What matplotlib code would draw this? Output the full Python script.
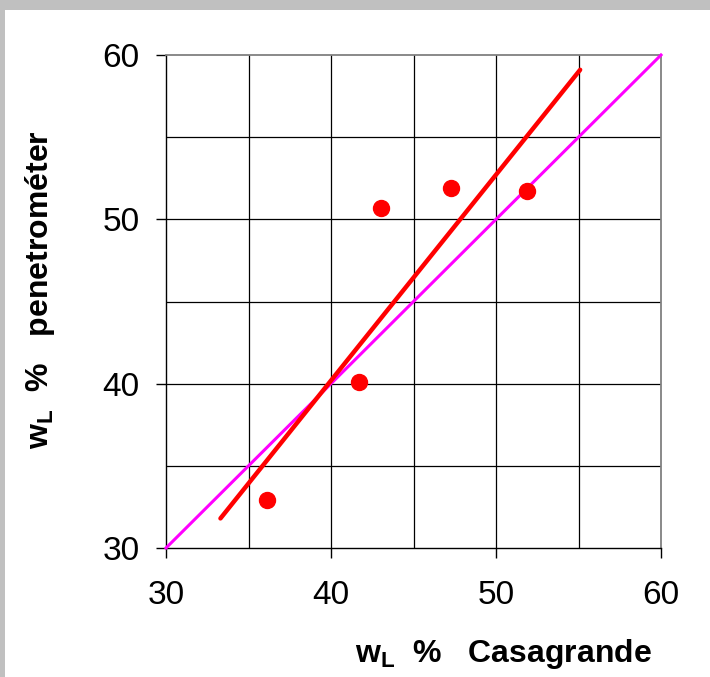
import matplotlib
matplotlib.use("Agg")
import matplotlib.pyplot as plt
from matplotlib.patches import Rectangle

plt.rcParams['font.family'] = ['Liberation Sans', 'DejaVu Sans']
plt.rcParams['mathtext.fontset'] = 'custom'
plt.rcParams['mathtext.rm'] = 'Liberation Sans'
plt.rcParams['mathtext.bf'] = 'Liberation Sans:bold'

# data
casagrande = [36.1, 41.7, 43.0, 47.3, 51.9]
penetrometer = [32.9, 40.1, 50.7, 51.9, 51.7]
fit_x = [33.3, 55.1]
fit_y = [31.8, 59.1]
equal_x = [30, 60]
equal_y = [30, 60]
ticks = [30, 40, 50, 60]
grid_vals = [35, 40, 45, 50, 55]

W, H = 710, 677
fig = plt.figure(figsize=(W / 100, H / 100), dpi=100)
fig.patch.set_facecolor('white')
# gray frame on top and left
fig.patches.append(Rectangle((0, 1 - 10 / H), 1, 10 / H, transform=fig.transFigure,
                             facecolor='#c0c0c0', edgecolor='none', zorder=0))
fig.patches.append(Rectangle((0, 0), 5 / W, 1, transform=fig.transFigure,
                             facecolor='#c0c0c0', edgecolor='none', zorder=0))

ax = fig.add_axes([166 / W, (H - 548) / H, (661 - 166) / W, (548 - 55) / H])
ax.set_xlim(30, 60)
ax.set_ylim(30, 60)

for g in grid_vals:
    ax.axvline(g, color='black', lw=0.9, zorder=1)
    ax.axhline(g, color='black', lw=0.9, zorder=1)

ax.plot(equal_x, equal_y, color='#ff00ff', lw=2.2, zorder=3, clip_on=False)
ax.plot(fit_x, fit_y, color='#ff0000', lw=3.2, zorder=4, solid_capstyle='round')
ax.plot(casagrande, penetrometer, 'o', color='#ff0000', markersize=11.5, zorder=5)

ax.set_xticks(ticks)
ax.set_yticks(ticks)
ax.tick_params(direction='out', length=7.2, width=1, labelsize=24)
ax.tick_params(axis='x', pad=16)
ax.tick_params(axis='y', pad=12)
for s in ['top', 'right']:
    ax.spines[s].set_color('#808080')
    ax.spines[s].set_linewidth(1.3)
for s in ['left', 'bottom']:
    ax.spines[s].set_color('black')
    ax.spines[s].set_linewidth(1.0)

fig.text(503 / W, 1 - 654 / H, r'w$_\mathbf{L}$  %   Casagrande', fontsize=23,
         fontweight='bold', ha='center', va='center')
fig.text(40 / W, 1 - 290 / H, r'w$_\mathbf{L}$  %   penetrométer', fontsize=23,
         fontweight='bold', ha='center', va='center', rotation=90)

fig.savefig('out.png', dpi=100)
